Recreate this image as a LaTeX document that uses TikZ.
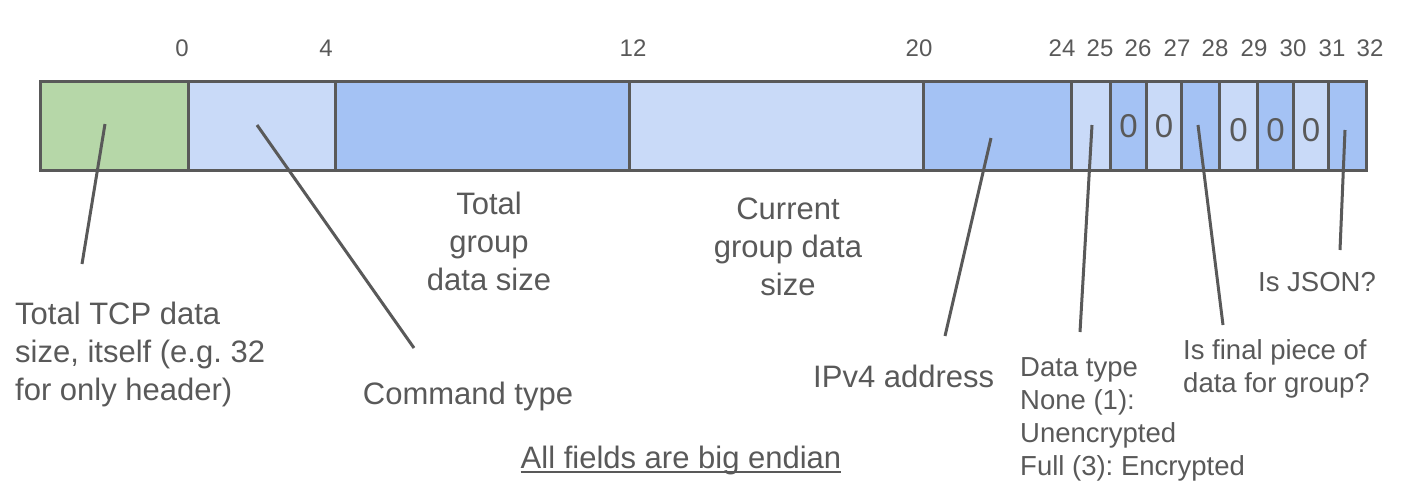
\documentclass[tikz,border=0pt]{standalone}
\usepackage{fontspec}
\setmainfont{Liberation Sans}
\usetikzlibrary{positioning}
\frenchspacing

\definecolor{ink}{HTML}{595959}
\definecolor{tcpgreen}{HTML}{B6D7A8}
\definecolor{lightblue}{HTML}{C9DAF8}
\definecolor{midblue}{HTML}{A4C2F4}

\begin{document}
\begin{tikzpicture}[
    x=1pt, y=-1pt,
    cell/.style={draw=ink, line width=3pt, inner sep=0, anchor=north west, minimum height=89pt},
    bitnum/.style={text=ink, inner sep=0, font=\fontsize{24}{28}\selectfont},
    zero/.style={text=ink, inner sep=0, font=\fontsize{33}{38}\selectfont},
    label/.style={text=ink, inner sep=0, font=\fontsize{31}{38}\selectfont},
    small/.style={text=ink, inner sep=0, align=left, font=\fontsize{27.5}{33}\selectfont},
    leader/.style={draw=ink, line width=3pt}
]
\useasboundingbox (0,0) rectangle (1402,496);

% header cells
\foreach \xa/\xb/\col [count=\i] in {39/187/tcpgreen, 187/334/lightblue, 334/628/midblue,
    628/922/lightblue, 922/1070/midblue, 1070/1109/lightblue, 1109/1145/midblue,
    1145/1180/lightblue, 1180/1218/midblue, 1218/1256/lightblue, 1256/1292/midblue,
    1292/1327/lightblue, 1327/1365/midblue}
  \node[cell, fill=\col, minimum width=\xb-\xa] (c\i) at (\xa,80) {};

% byte offsets
\foreach \n/\xx in {0/182, 4/326, 12/633, 20/919, 24/1062, 25/1100, 26/1138, 27/1177,
    28/1215, 29/1254, 30/1293, 31/1332, 32/1370}
  \node[bitnum] (b\n) at (\xx,48) {\n};

% unused bits
\node[zero] (z7) at (c7.center) {0};
\node[zero] (z8) at (c8.center) {0};
\node[zero, yshift=-4pt] (z10) at (c10.center) {0};
\node[zero, yshift=-4pt] (z11) at (c11.center) {0};
\node[zero, yshift=-4pt] (z12) at (c12.center) {0};

% field labels
\node[label, align=left, anchor=north west] (tcp) at (15,302) {Total TCP data\\size, itself (e.g. 32\\for only header)};
\node[label, anchor=base] (cmd) at (468,404) {Command type};
\node[label, align=center, anchor=north] (total) at (489,192) {Total\\group\\data size};
\node[label, align=center, anchor=north] (current) at (788,198) {Current\\group data\\size};
\node[label, anchor=base west] (ip) at (813,387) {IPv4 address};
\node[small, anchor=north west] (dtype) at (1020,357) {Data type\\None (1):\\Unencrypted\\Full (3): Encrypted};
\node[small, anchor=north west] (final) at (1183,339) {Is final piece of\\data for group?};
\node[small, anchor=north west] (json) at (1258,272) {Is JSON?};
\node[label, anchor=base] (endian) at (681,468) {All fields are big endian};
\draw[ink, line width=2pt] ([yshift=-4pt]endian.base west) -- ([yshift=-4pt]endian.base east);

% leader lines
\coordinate (tcpA) at (105,124);  \coordinate (tcpB) at (82,264);
\coordinate (cmdA) at (257,125);  \coordinate (cmdB) at (414,348);
\coordinate (ipA) at (991,138);   \coordinate (ipB) at (945,336);
\coordinate (dtA) at (1092,125);  \coordinate (dtB) at (1080,332);
\coordinate (finA) at (1198,125); \coordinate (finB) at (1223,325);
\coordinate (jsA) at (1345,130);  \coordinate (jsB) at (1340,250);
\draw[leader] (tcpA) -- (tcpB);
\draw[leader] (cmdA) -- (cmdB);
\draw[leader] (ipA) -- (ipB);
\draw[leader] (dtA) -- (dtB);
\draw[leader] (finA) -- (finB);
\draw[leader] (jsA) -- (jsB);
\end{tikzpicture}
\end{document}
